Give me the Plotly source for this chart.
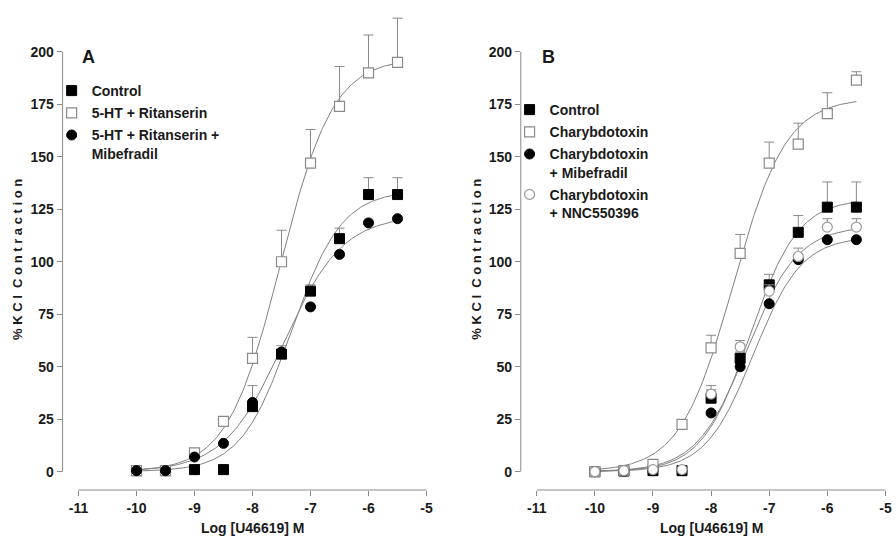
import numpy as np
import plotly.graph_objects as go

# ---------------- data ----------------
log_conc = [-10, -9.5, -9, -8.5, -8, -7.5, -7, -6.5, -6, -5.5]
x_ticks = [-11, -10, -9, -8, -7, -6, -5]
x_tick_text = ["-11", "-10", "-9", "-8", "-7", "-6", "-5"]
y_ticks = [0, 25, 50, 75, 100, 125, 150, 175, 200]

# Panel A
a_names = ["Control", "5-HT + Ritanserin", "5-HT + Ritanserin +<br>Mibefradil"]
a_control = [0.5, 0.5, 1, 1, 31, 56, 86, 111, 132, 132]
a_control_err = [None, None, None, None, 10, 4, 3, 5, 8, 8]
a_rit = [0.5, 0.5, 9, 24, 54, 100, 147, 174, 190, 195]
a_rit_err = [None, None, 2, 2, 10, 15, 16, 19, 18, 21]
a_mib = [0.5, 0.5, 7, 13.5, 33, 57, 78.5, 103.5, 118.5, 120.5]
a_mib_err = [None] * 10
# sigmoid fit parameters: bottom, top, logEC50, hill
a_fits = [(0, 134, -7.33, 1.0), (0, 197, -7.52, 0.95), (0, 122, -7.47, 0.85)]

# Panel B
b_names = ["Control", "Charybdotoxin", "Charybdotoxin<br>+ Mibefradil", "Charybdotoxin<br>+ NNC550396"]
b_control = [0, 0.3, 0.5, 0.5, 35, 54, 89, 114, 126, 126]
b_control_err = [None, None, None, None, 4, 3, 5, 8, 12, 12]
b_chtx = [0, 0.5, 3.5, 22.5, 59, 104, 147, 156, 170.5, 186.5]
b_chtx_err = [None, None, None, 1, 6, 9, 10, 10, 10, 4]
b_mib = [0, 0.3, 0.5, 0.5, 28, 50, 80, 101, 110.5, 110.5]
b_mib_err = [None] * 10
b_nnc = [0, 0.5, 1, 1, 37, 59.5, 86, 102.5, 116.5, 116.5]
b_nnc_err = [None, None, None, None, 4, 3, 3, 4, 4, 4]
b_fits = [(0, 130, -7.33, 1.05), (0, 178, -7.62, 0.95), (0, 112, -7.27, 1.05), (0, 117, -7.38, 1.0)]

# ---------------- styling ----------------
GRAY = "#8a8a8a"
DARK = "#1a1a1a"
FONT = "Liberation Sans, Arial, sans-serif"
filled_sq = dict(symbol="square", size=10, color="black", line=dict(color="black", width=1))
open_sq = dict(symbol="square", size=10, color="white", line=dict(color=GRAY, width=1.2))
filled_ci = dict(symbol="circle", size=10, color="black", line=dict(color="black", width=1))
open_ci = dict(symbol="circle", size=10, color="white", line=dict(color="#9a9a9a", width=1.2))

fig = go.Figure()


def hill(params, xs):
    b, t, ec, h = params
    xs = np.asarray(xs)
    return b + (t - b) / (1 + 10 ** ((ec - xs) * h))


x_fit = np.linspace(log_conc[0], log_conc[-1], 200)


def add_panel(xa, ya, legend, names, ys, errs, markers, fits):
    for p in fits:
        fig.add_trace(go.Scatter(x=x_fit, y=hill(p, x_fit), mode="lines",
                                 line=dict(color="#808080", width=1),
                                 xaxis=xa, yaxis=ya, showlegend=False, hoverinfo="skip"))
    for i, (n, y, e, m) in enumerate(zip(names, ys, errs, markers)):
        fig.add_trace(go.Scatter(
            x=log_conc, y=y, mode="markers", name=n, marker=m,
            error_y=dict(type="data", symmetric=False, array=e, arrayminus=[0] * len(e),
                         color=GRAY, thickness=1, width=5),
            xaxis=xa, yaxis=ya, legend=legend, legendgroup=legend + str(i),
            cliponaxis=False))


add_panel("x", "y", "legend", a_names, [a_control, a_rit, a_mib],
          [a_control_err, a_rit_err, a_mib_err], [filled_sq, open_sq, filled_ci], a_fits)
add_panel("x2", "y2", "legend2", b_names, [b_control, b_chtx, b_mib, b_nnc],
          [b_control_err, b_chtx_err, b_mib_err, b_nnc_err],
          [filled_sq, open_sq, filled_ci, open_ci], b_fits)

W, H = 896, 539
y_dom = [(H - 490) / H, (H - 10) / H]
y_rng = [-8.71, 219.9]
x_rng = [-11.274, -4.99]

axis_common = dict(showgrid=False, zeroline=False, showline=False, ticks="outside",
                   ticklen=5, tickcolor=GRAY, tickwidth=1,
                   tickfont=dict(family=FONT, size=14, color=DARK, weight="bold"))

leg_font = dict(family=FONT, size=14, color=DARK, weight="bold")
fig.update_layout(
    width=W, height=H, margin=dict(l=0, r=0, t=0, b=0),
    paper_bgcolor="white", plot_bgcolor="white",
    xaxis=dict(domain=[63 / W, 430 / W], range=x_rng, tickvals=x_ticks, ticktext=x_tick_text,
               anchor="y", **axis_common),
    yaxis=dict(domain=y_dom, range=y_rng, tickvals=y_ticks, anchor="x", **axis_common),
    xaxis2=dict(domain=[524.3 / W, 892 / W], range=x_rng, tickvals=x_ticks, ticktext=x_tick_text,
                anchor="y2", **axis_common),
    yaxis2=dict(domain=y_dom, range=y_rng, tickvals=y_ticks, anchor="x2", **axis_common),
    legend=dict(x=52 / W, y=1 - 75 / H, xanchor="left", yanchor="top", valign="top",
                font=leg_font, tracegroupgap=1, itemwidth=30, bgcolor="rgba(0,0,0,0)"),
    legend2=dict(x=513 / W, y=1 - 94 / H, xanchor="left", yanchor="top", valign="top",
                 font=leg_font, tracegroupgap=1, itemwidth=30, bgcolor="rgba(0,0,0,0)"),
)

# offset axis lines (Prism style)
for xr, yr in [("x", "y"), ("x2", "y2")]:
    fig.add_shape(type="line", xref=xr + " domain", yref=yr, x0=0, x1=0, y0=0, y1=200,
                  line=dict(color=GRAY, width=1))
    fig.add_shape(type="line", xref=xr, yref=yr + " domain", x0=-11, x1=-5, y0=0, y1=0,
                  line=dict(color=GRAY, width=1))

ann_font = dict(family=FONT, size=14, color=DARK, weight="bold")
annotations = [
    dict(text="A", x=89 / W, y=1 - 57 / H, font=dict(family=FONT, size=18, color=DARK, weight="bold")),
    dict(text="B", x=552 / W, y=1 - 57 / H, font=dict(family=FONT, size=18, color=DARK, weight="bold")),
    dict(text="Log [U46619] M", x=254 / W, y=1 - 528 / H, font=ann_font),
    dict(text="Log [U46619] M", x=716 / W, y=1 - 528 / H, font=ann_font),
    dict(text="% K C l  C o n t r a c t i o n", x=17 / W, y=1 - 259 / H, textangle=-90,
         font=dict(family=FONT, size=13, color=DARK, weight="bold")),
    dict(text="% K C l  C o n t r a c t i o n", x=479 / W, y=1 - 259 / H, textangle=-90,
         font=dict(family=FONT, size=13, color=DARK, weight="bold")),
]
for a in annotations:
    fig.add_annotation(xref="paper", yref="paper", showarrow=False, xanchor="center", yanchor="middle", **a)

fig.write_html("out.html")
